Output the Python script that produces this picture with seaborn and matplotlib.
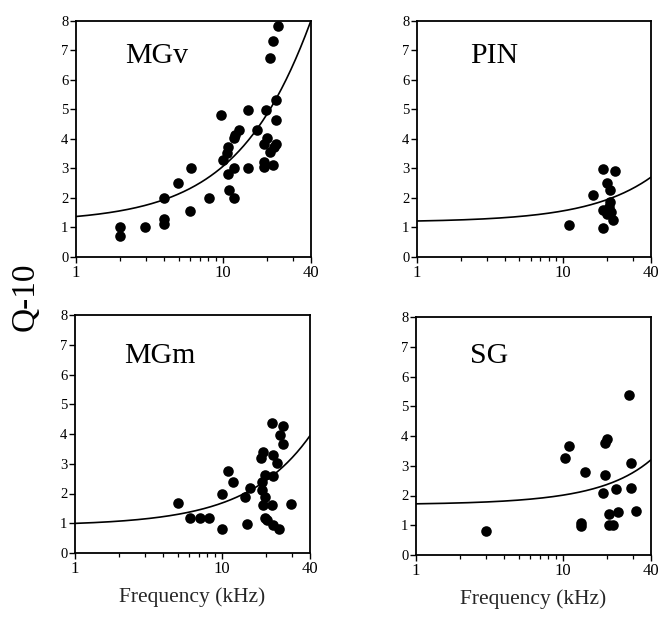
import numpy as np
import pandas as pd
import matplotlib
matplotlib.use("Agg")
import matplotlib.pyplot as plt
import seaborn as sns

# ---- data ----
mgv_freq = [1.98, 1.98, 2.97, 4.0, 4.0, 4.0, 4.97, 6.0, 6.05, 8.1, 9.7, 10.1, 10.7, 10.9,
            10.9, 11.0, 11.9, 11.9, 11.9, 12.1, 13.0, 14.9, 14.9, 17.1, 19.0, 19.0, 19.0,
            19.8, 20.0, 21.1, 21.0, 22.2, 22.2, 22.4, 23.1, 23.1, 23.0, 23.7]
mgv_q10 = [1.01, 0.72, 1.01, 1.30, 1.13, 2.0, 2.51, 1.54, 3.01, 2.0, 4.81, 3.29, 3.52, 3.72,
           2.82, 2.28, 2.0, 3.01, 4.02, 4.11, 4.30, 4.98, 3.01, 4.30, 3.21, 3.04, 3.81,
           4.98, 4.02, 6.73, 3.55, 7.29, 3.11, 3.72, 5.32, 4.62, 3.81, 7.82]

pin_freq = [10.9, 16.0, 18.7, 22.8, 19.9, 21.0, 21.0, 18.9, 19.9, 21.4, 22.1, 18.9, 20.5]
pin_q10 = [1.07, 2.09, 2.98, 2.91, 2.49, 2.26, 1.86, 1.58, 1.47, 1.53, 1.24, 0.98, 1.70]

mgm_freq = [5.0, 6.07, 7.1, 8.19, 10.1, 10.1, 11.05, 11.96, 14.4, 14.8, 15.6, 18.4, 18.7,
            18.7, 19.2, 19.7, 19.7, 19.7, 19.2, 20.5, 21.9, 21.9, 22.5, 22.5, 22.5, 23.7,
            24.7, 25.0, 26.0, 26.3, 29.5]
mgm_q10 = [1.68, 1.19, 1.19, 1.19, 0.81, 1.99, 2.77, 2.37, 1.89, 0.99, 2.17, 3.18, 2.39,
           2.11, 3.40, 2.62, 1.89, 1.16, 1.61, 1.10, 4.36, 1.61, 3.29, 2.58, 0.93, 3.01,
           0.79, 3.96, 3.68, 4.27, 1.66]

sg_freq = [3.01, 10.3, 11.1, 13.4, 13.4, 14.3, 18.7, 19.5, 19.5, 20.2, 20.6, 20.6, 22.0,
           23.1, 23.9, 28.3, 29.0, 29.0, 31.4]
sg_q10 = [0.82, 3.27, 3.68, 1.06, 0.97, 2.80, 2.09, 2.68, 3.78, 3.89, 1.38, 1.0, 1.0,
          2.21, 1.45, 5.37, 2.26, 3.08, 1.49]

# fitted curve coefficients (q10 = c0 + c1*f + c2*f^2)
mgv_fit = [1.176, 0.1942, -0.00059]
pin_fit = [1.18, 0.038, 0.0]
mgm_fit = [0.92, 0.0756, 0.0]
sg_fit = [1.69, 0.0301, 0.000191]

panel_names = ["MGv", "PIN", "MGm", "SG"]
x_ticks = [1, 10, 40]
x_tick_labels = ["1", "10", "40"]
y_ticks = [0, 1, 2, 3, 4, 5, 6, 7, 8]

sns.set_style("ticks")
plt.rcParams["font.family"] = ["Liberation Serif", "DejaVu Serif"]

W, H = 659, 619
fig = plt.figure(figsize=(W / 100, H / 100), dpi=100)

# pixel boxes: left, right, top, bottom
boxes = [(76, 311, 20.5, 257), (417, 651, 20.5, 257),
         (75, 310, 315, 553), (416, 651, 317, 555)]
data = [(mgv_freq, mgv_q10, mgv_fit), (pin_freq, pin_q10, pin_fit),
        (mgm_freq, mgm_q10, mgm_fit), (sg_freq, sg_q10, sg_fit)]
title_pos = [(0.21, 0.82), (0.229, 0.82), (0.208, 0.80), (0.23, 0.807)]

for i, ((l, r, t, b), (fx, qy, fit), name, (tx, ty)) in enumerate(
        zip(boxes, data, panel_names, title_pos)):
    ax = fig.add_axes([l / W, 1 - b / H, (r - l) / W, (b - t) / H])
    df = pd.DataFrame({"freq": fx, "q10": qy})
    sns.scatterplot(data=df, x="freq", y="q10", ax=ax, color="black",
                    s=58, edgecolor="black", linewidth=0, legend=False, zorder=3)
    grid = np.geomspace(1, 40, 200)
    curve = pd.DataFrame({"freq": grid,
                          "q10": fit[0] + fit[1] * grid + fit[2] * grid ** 2})
    sns.lineplot(data=curve, x="freq", y="q10", ax=ax, color="black",
                 linewidth=1.2, zorder=2)
    ax.set_xscale("log")
    ax.set_xlim(1, 40)
    ax.set_ylim(0, 8)
    ax.set_xticks(x_ticks)
    ax.set_xticklabels(x_tick_labels, fontsize=12)
    ax.set_xticks([2, 3, 4, 5, 6, 7, 8, 9, 20, 30], minor=True)
    ax.xaxis.set_minor_formatter(matplotlib.ticker.NullFormatter())
    ax.set_yticks(y_ticks)
    ax.set_yticklabels([str(v) for v in y_ticks], fontsize=10.5)
    ax.tick_params(axis="both", which="major", direction="out", length=4,
                   width=1.0, pad=1.5, color="black", labelcolor="black")
    ax.tick_params(axis="x", which="minor", direction="out", length=3,
                   width=0.9, color="black")
    for sp in ax.spines.values():
        sp.set_visible(True)
        sp.set_linewidth(1.3)
        sp.set_color("black")
    ax.set_ylabel("")
    if i >= 2:
        ax.set_xlabel("Frequency (kHz)", fontsize=15.5, labelpad=8)
    else:
        ax.set_xlabel("")
    ax.text(tx, ty, name, transform=ax.transAxes, fontsize=21.5,
            ha="left", va="baseline", color="black")

fig.text(25 / W, 1 - 297 / H, "Q-10", rotation=90, fontsize=24,
         ha="center", va="center", color="black")

fig.savefig("out.png", dpi=100, facecolor="white")
